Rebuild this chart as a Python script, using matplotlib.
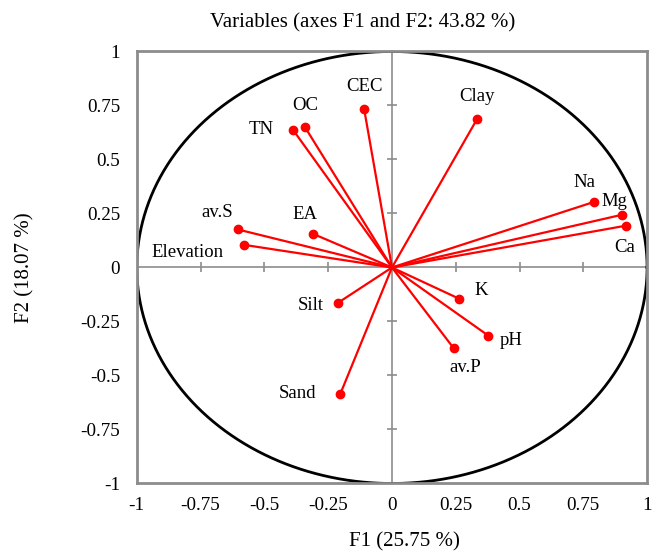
import numpy as np
import matplotlib

matplotlib.use("Agg")
import matplotlib.pyplot as plt

plt.rcParams["font.family"] = ["Liberation Serif", "DejaVu Serif"]

# correlation of each variable with F1 / F2
variables = ["Ca", "Mg", "Na", "Clay", "CEC", "OC", "TN", "EA", "av.S",
             "Elevation", "Silt", "Sand", "K", "pH", "av.P"]
f1 = [0.919, 0.901, 0.793, 0.334, -0.109, -0.341, -0.387, -0.310, -0.604,
      -0.581, -0.212, -0.203, 0.264, 0.377, 0.242]
f2 = [0.194, 0.244, 0.304, 0.688, 0.733, 0.650, 0.636, 0.156, 0.176,
      0.105, -0.164, -0.587, -0.145, -0.315, -0.374]
ticks = [-1, -0.75, -0.5, -0.25, 0, 0.25, 0.5, 0.75, 1]
tick_labels = ["-1", "-0.75", "-0.5", "-0.25", "0", "0.25", "0.5", "0.75", "1"]

# label offsets in pixels (dx, dy up)
label_offsets = {
    "Ca": (-2, -22), "Mg": (-7, 13), "Na": (-10, 19), "Clay": (0, 22),
    "CEC": (0, 23), "OC": (0, 22), "TN": (-32, 1), "EA": (-8, 19),
    "av.S": (-21, 17), "Elevation": (-56, -8), "Silt": (-27, -3),
    "Sand": (-43, 1), "K": (22, 8), "pH": (23, -5), "av.P": (12, -19),
}

fig = plt.figure(figsize=(6.53, 5.53), dpi=100)
ax = fig.add_axes([0.2095, 0.1257, 0.7815, 0.7812])
ax.set_xlim(-1, 1)
ax.set_ylim(-1, 1)

grey = "#8c8c8c"
ax.axhline(0, color=grey, lw=1.2, zorder=1)
ax.axvline(0, color=grey, lw=1.2, zorder=1)
minor = [t for t in ticks if t not in (-1, 0, 1)]
ax.plot(minor, [0] * len(minor), ls="none", marker="|", ms=7, mew=1.2, color=grey, zorder=1)
ax.plot([0] * len(minor), minor, ls="none", marker="_", ms=7, mew=1.2, color=grey, zorder=1)

theta = np.linspace(0, 2 * np.pi, 400)
ax.plot(np.cos(theta), np.sin(theta), color="black", lw=2, zorder=2)

for name, x, y in zip(variables, f1, f2):
    ax.plot([0, x], [0, y], color="red", lw=1.6, zorder=3)
    ax.plot(x, y, "o", color="red", ms=6, zorder=4)
    dx, dy = label_offsets[name]
    ax.annotate(name, (x, y), xytext=(dx * 0.72, dy * 0.72), textcoords="offset points",
                ha="center", va="center", fontsize=13.5)

for side in ax.spines.values():
    side.set_color(grey)
    side.set_linewidth(2)

ax.set_xticks(ticks, tick_labels)
ax.set_yticks(ticks, tick_labels)
ax.tick_params(length=0, labelsize=13.8)
ax.tick_params(axis="x", pad=10)
ax.tick_params(axis="y", pad=12)

fig.text(404.5 / 653, 1 - 542 / 553, "F1 (25.75 %)", fontsize=15, ha="center", va="center")
fig.text(25 / 653, 1 - 268 / 553, "F2 (18.07 %)", fontsize=15, ha="center", va="center",
         rotation=90)
fig.text(363 / 653, 1 - 23 / 553, "Variables (axes F1 and F2: 43.82 %)", fontsize=15,
         ha="center", va="center")

fig.savefig("out.png", dpi=100)
plt.close(fig)
